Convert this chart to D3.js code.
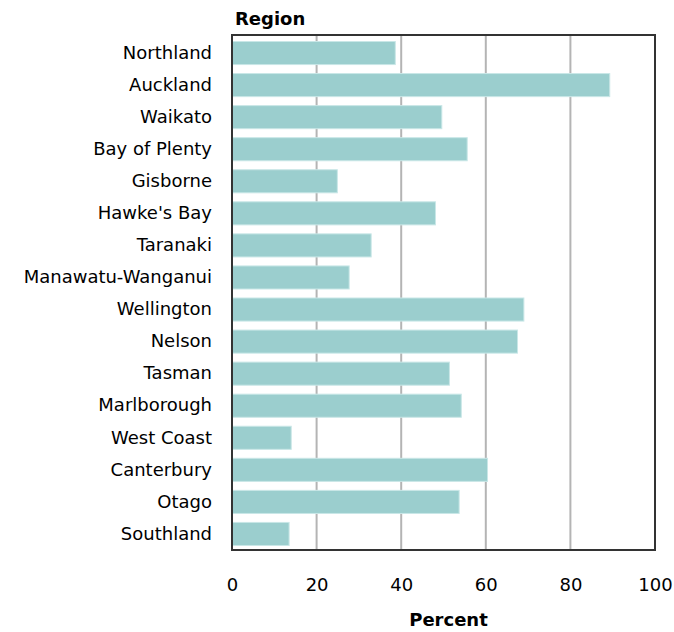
<!DOCTYPE html>
<html>
<head>
<meta charset="utf-8">
<script src="https://cdn.jsdelivr.net/npm/d3@7"></script>
<style>
  html, body { margin: 0; padding: 0; background: #fff; }
  svg { display: block; }
  text { font-family: "DejaVu Sans", Verdana, sans-serif; fill: #000; }
</style>
</head>
<body>
<svg id="chart" width="674" height="632"></svg>
<script>
const regions = ["Northland", "Auckland", "Waikato", "Bay of Plenty", "Gisborne", "Hawke's Bay",
  "Taranaki", "Manawatu-Wanganui", "Wellington", "Nelson", "Tasman", "Marlborough",
  "West Coast", "Canterbury", "Otago", "Southland"];
const percent = [38.6, 89.3, 49.6, 55.6, 24.9, 48.1, 32.9, 27.7, 69.0, 67.5, 51.4, 54.2, 14.0, 60.4, 53.7, 13.5];
const xTicks = [0, 20, 40, 60, 80, 100];
const yTitle = "Region";
const xTitle = "Percent";

const svg = d3.select("#chart");
const pLeft = 232, pRight = 655, pTop = 35, pBottom = 550;

const x = d3.scaleLinear().domain([0, 100]).range([pLeft, pRight]);
const y = d3.scaleBand().domain(regions).range([37, pBottom]).paddingInner(0.28).paddingOuter(0.14);

// gridlines
svg.append("g").selectAll("line").data(xTicks.filter(t => t > 0 && t < 100)).join("line")
  .attr("x1", d => x(d)).attr("x2", d => x(d))
  .attr("y1", pTop).attr("y2", pBottom)
  .attr("stroke", "#b4b4b4").attr("stroke-width", 2);

// bars
svg.append("g").selectAll("rect").data(regions).join("rect")
  .attr("x", x(0))
  .attr("y", d => y(d))
  .attr("width", (d, i) => x(percent[i]) - x(0))
  .attr("height", y.bandwidth())
  .attr("fill", "#9bcece")
  .attr("stroke", "#c9e7e7")
  .attr("stroke-width", 1);

// frame
svg.append("rect")
  .attr("x", pLeft).attr("y", pTop)
  .attr("width", pRight - pLeft).attr("height", pBottom - pTop)
  .attr("fill", "none").attr("stroke", "#333").attr("stroke-width", 2);

// y axis labels
const yAxis = d3.axisLeft(y).tickSize(0).tickPadding(20);
const gy = svg.append("g").attr("transform", `translate(${pLeft},0)`).call(yAxis);
gy.select(".domain").remove();
gy.selectAll("text").style("font-size", "18px").style("font-family", "'DejaVu Sans', Verdana, sans-serif").attr("fill", "#000");

// x axis labels
const xAxis = d3.axisBottom(x).tickValues(xTicks).tickSize(0).tickPadding(28).tickFormat(d3.format("d"));
const gx = svg.append("g").attr("transform", `translate(0,${pBottom})`).call(xAxis);
gx.select(".domain").remove();
gx.selectAll("text").style("font-size", "18px").style("font-family", "'DejaVu Sans', Verdana, sans-serif").attr("fill", "#000");

// titles
svg.append("text").attr("x", pLeft + 3).attr("y", 25)
  .style("font-size", "18px").style("font-weight", "bold").text(yTitle);
svg.append("text").attr("x", (pLeft + pRight) / 2 + 5).attr("y", 626)
  .attr("text-anchor", "middle")
  .style("font-size", "18px").style("font-weight", "bold").text(xTitle);
</script>
</body>
</html>
